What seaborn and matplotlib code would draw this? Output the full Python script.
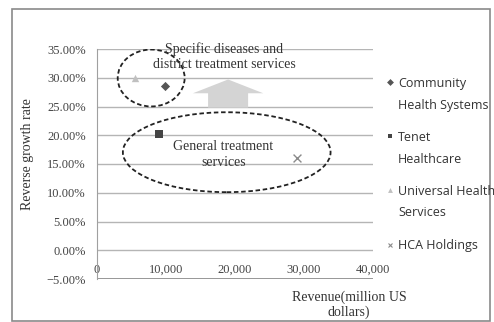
import matplotlib
matplotlib.use("Agg")
import numpy as np
import matplotlib.pyplot as plt
import seaborn as sns
import pandas as pd
from matplotlib.patches import Ellipse, FancyArrow, Rectangle
from matplotlib.ticker import PercentFormatter, FuncFormatter
from matplotlib.lines import Line2D
from matplotlib.legend_handler import HandlerLine2D

companies = ["Community\nHealth Systems", "Tenet\nHealthcare",
             "Universal Health\nServices", "HCA Holdings"]
revenue = [9800, 9000, 5500, 29000]
growth = [0.286, 0.203, 0.300, 0.160]
x_ticks = [0, 10000, 20000, 30000, 40000]
y_ticks = [-0.05, 0, 0.05, 0.10, 0.15, 0.20, 0.25, 0.30, 0.35]

df = pd.DataFrame({"company": companies, "revenue": revenue, "growth": growth})

sns.set_style("white")
plt.rcParams["font.family"] = ["Liberation Serif", "DejaVu Serif"]

fig = plt.figure(figsize=(4.94, 3.22), dpi=100)
ax = fig.add_axes([97/494, 1-279/322, 276/494, 230/322])

palette = {companies[0]: "#555555", companies[1]: "#444444",
           companies[2]: "#c0c0c0", companies[3]: "#8a8a8a"}
markers = {companies[0]: "D", companies[1]: "s",
           companies[2]: "^", companies[3]: "x"}
sizes = {companies[0]: 22, companies[1]: 40, companies[2]: 28, companies[3]: 32}

for c in companies:
    sub = df[df.company == c]
    sns.scatterplot(data=sub, x="revenue", y="growth", ax=ax, color=palette[c],
                    marker=markers[c], s=sizes[c], linewidth=1 if markers[c] == "x" else 0,
                    zorder=4, legend=False)

ax.set_xlim(0, 40000)
ax.set_ylim(-0.05, 0.35)
ax.set_xticks(x_ticks)
ax.set_yticks(y_ticks)
ax.yaxis.set_major_formatter(PercentFormatter(1, decimals=2))
ax.xaxis.set_major_formatter(FuncFormatter(lambda v, p: f"{int(v):,}"))
ax.grid(axis="y", color="#b5b5b5", linewidth=1)
ax.set_axisbelow(True)
for s in ["top", "right"]:
    ax.spines[s].set_visible(False)
ax.spines["left"].set_color("#a0a0a0")
# x axis crosses at 0 (labels just below 0%), spine line hidden there
ax.spines["bottom"].set_position(("data", 0))
ax.spines["bottom"].set_visible(False)
ax.axhline(-0.05, color="#909090", linewidth=1.3, zorder=1)
ax.tick_params(axis="both", length=0, labelsize=9, colors="#444444")
ax.tick_params(axis="y", pad=8)
ax.tick_params(axis="x", pad=10)

ax.set_xlabel("")
ax.set_ylabel("")
fig.text(28/494, 1-154/322, "Reverse growth rate", rotation=90, ha="center",
         va="center", fontsize=10, color="#333333")
fig.text(349/494, 1-305/322, "Revenue(million US\ndollars)", ha="center",
         va="center", fontsize=10, color="#333333", linespacing=1.15)

# annotations
ax.add_patch(Ellipse((7850, 0.2996), 9700, 0.099, fill=False, edgecolor="#222222",
                     linestyle=(0, (2.5, 1.5)), linewidth=1.3, zorder=3))
ax.add_patch(Ellipse((18800, 0.1705), 30100, 0.139, fill=False, edgecolor="#222222",
                     linestyle=(0, (2.5, 1.5)), linewidth=1.3, zorder=3))
ax.add_patch(FancyArrow(19000, 0.248, 0, 0.049, width=5800, head_width=10200,
                        head_length=0.024, length_includes_head=True,
                        facecolor="#d4d4d4", edgecolor="none", zorder=2))
ax.text(18400, 0.337, "Specific diseases and\ndistrict treatment services",
        ha="center", va="center", fontsize=10, color="#333333", linespacing=1.25,
        zorder=5)
ax.text(18300, 0.166, "General treatment\nservices", ha="center", va="center",
        fontsize=10, color="#333333", linespacing=1.3, zorder=5)


class TopHandler(HandlerLine2D):
    def __init__(self, shift=0.0, **kw):
        super().__init__(**kw)
        self.shift = shift

    def create_artists(self, legend, orig_handle, xdescent, ydescent, width,
                       height, fontsize, trans):
        arts = super().create_artists(legend, orig_handle, xdescent, ydescent,
                                      width, height, fontsize, trans)
        for a in arts:
            a.set_ydata(np.asarray(a.get_ydata()) + self.shift)
        return arts


# legend
handles = []
hmap = {}
for c in companies:
    mk = markers[c]
    h = Line2D([], [], linestyle="none", marker=mk, color=palette[c],
               markersize=3.5, markeredgewidth=0.8 if mk == "x" else 0)
    handles.append(h)
    hmap[h] = TopHandler(shift=9.5 if "\n" in c else 0.0)
leg = fig.legend(handles, companies, loc="upper left", handler_map=hmap,
                 bbox_to_anchor=(380/494, 1-71/322), frameon=False,
                 prop={"family": "Open Sans", "size": 9}, labelspacing=1.55,
                 handlelength=0.6, handletextpad=0.35, borderpad=0)
for t in leg.get_texts():
    t.set_color("#333333")
    t.set_linespacing(1.85)

# outer frame
fig.add_artist(Rectangle((12/494, 1-321/322), 478/494, 312/322,
                         transform=fig.transFigure, fill=False,
                         edgecolor="#8a8a8a", linewidth=1.2))

fig.savefig("out.png", dpi=100)
